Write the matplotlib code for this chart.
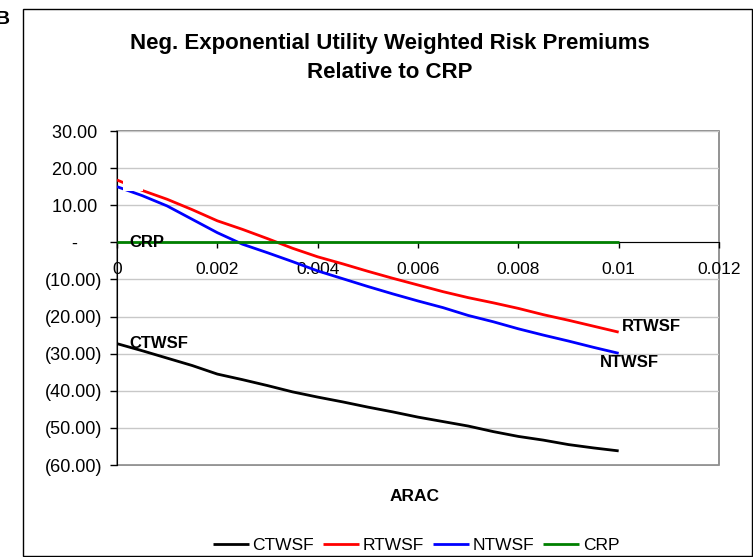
import numpy as np
import matplotlib.pyplot as plt
from matplotlib.patches import Rectangle
from matplotlib.ticker import FuncFormatter, MultipleLocator

plt.rcParams['font.family'] = ['Liberation Sans', 'DejaVu Sans']

# ARAC values (absolute risk aversion coefficient)
arac = [0.0, 0.0005, 0.001, 0.0015, 0.002, 0.0025, 0.003, 0.0035, 0.004, 0.0045,
        0.005, 0.0055, 0.006, 0.0065, 0.007, 0.0075, 0.008, 0.0085, 0.009, 0.0095, 0.01]

ctwsf = [-27.3, -29.2, -31.2, -33.2, -35.5, -37.0, -38.6, -40.3, -41.7, -43.0,
         -44.4, -45.7, -47.1, -48.3, -49.5, -51.0, -52.3, -53.3, -54.5, -55.4, -56.2]
rtwsf = [16.8, 14.0, 11.6, 8.8, 5.8, 3.5, 1.0, -1.6, -3.9, -5.8,
         -7.8, -9.7, -11.5, -13.3, -14.9, -16.3, -17.8, -19.5, -21.0, -22.6, -24.2]
ntwsf = [15.0, 12.6, 9.8, 6.2, 2.6, -0.5, -2.8, -5.2, -7.7, -9.8,
         -11.9, -13.9, -15.8, -17.6, -19.7, -21.4, -23.3, -25.0, -26.6, -28.3, -29.9]
crp = [0.0] * len(arac)

series_names = ['CTWSF', 'RTWSF', 'NTWSF', 'CRP']
series_colors = ['#000000', '#ff0000', '#0000ff', '#008000']

W, H = 753, 557
fig = plt.figure(figsize=(W / 100, H / 100), dpi=100)

# outer chart frame
fig.patches.append(Rectangle((23 / W, 1 / H), 729 / W, 547 / H, transform=fig.transFigure,
                             fill=False, edgecolor='black', linewidth=1.0))
fig.text(-4 / W, 1 - 19 / H, 'B', fontsize=14, fontweight='bold', ha='left', va='center')

ax = fig.add_axes([117 / W, 1 - 465 / H, (719 - 117) / W, (465 - 131) / H])

for ys, name, col in zip([ctwsf, rtwsf, ntwsf, crp], series_names, series_colors):
    ax.plot(arac, ys, color=col, linewidth=2.0, label=name, solid_capstyle='butt', zorder=3)

# small blank data label box that hides part of the red/blue lines
ax.add_patch(Rectangle((0.00012, 13.9), 0.0004, 2.6, facecolor='white', edgecolor='none', zorder=5))

ax.set_xlim(0, 0.012)
ax.set_ylim(-60, 30)
ax.xaxis.set_major_locator(MultipleLocator(0.002))
ax.yaxis.set_major_locator(MultipleLocator(10))
ax.xaxis.set_major_formatter(FuncFormatter(lambda v, p: f'{v:g}'))


def yfmt(v, p):
    if abs(v) < 1e-9:
        return '-     '
    if v < 0:
        return f'({abs(v):.2f})'
    return f'{v:.2f} '


ax.yaxis.set_major_formatter(FuncFormatter(yfmt))
ax.grid(axis='y', color='#c8c8c8', linewidth=1.0)
ax.set_axisbelow(True)

ax.spines['bottom'].set_position(('data', 0))
ax.spines['bottom'].set_color('black')
ax.spines['left'].set_color('black')
ax.spines['top'].set_visible(False)
ax.spines['right'].set_visible(False)
ax.add_patch(Rectangle((0, 0), 1, 1, transform=ax.transAxes, fill=False,
                       edgecolor='#808080', linewidth=1.2, clip_on=False, zorder=0.5))

ax.tick_params(axis='x', direction='out', length=4, width=1, pad=10, labelsize=12.5)
ax.tick_params(axis='y', direction='out', length=5, width=1, pad=5.5, labelsize=13)

ax.set_xlabel('ARAC', fontsize=12.5, fontweight='bold')
ax.xaxis.set_label_coords(298 / 602, -(489 - 465) / 334)

# data labels
lab = dict(fontsize=12, fontweight='bold', va='center', zorder=6)
ax.annotate('CRP', xy=(arac[0], crp[0]), xytext=(9, 0), textcoords='offset points', ha='left', **lab)
ax.annotate('CTWSF', xy=(arac[0], ctwsf[0]), xytext=(9, 0), textcoords='offset points', ha='left', **lab)
ax.annotate('RTWSF', xy=(arac[-1], rtwsf[-1]), xytext=(2, 4), textcoords='offset points', ha='left', **lab)
ax.annotate('NTWSF', xy=(arac[-1], ntwsf[-1]), xytext=(8, -6.5), textcoords='offset points', ha='center', **lab)

fig.text(390 / W, 1 - 58 / H, 'Neg. Exponential Utility Weighted Risk Premiums\nRelative to CRP',
         ha='center', va='center', fontsize=16, fontweight='bold', linespacing=1.55)

fig.legend(loc='center', bbox_to_anchor=(416 / W, 1 - 545 / H), ncol=4, frameon=False,
           fontsize=12.5, handlelength=2.1, handletextpad=0.2, columnspacing=0.5,
           borderaxespad=0, borderpad=0)

fig.savefig('out.png', dpi=100)
